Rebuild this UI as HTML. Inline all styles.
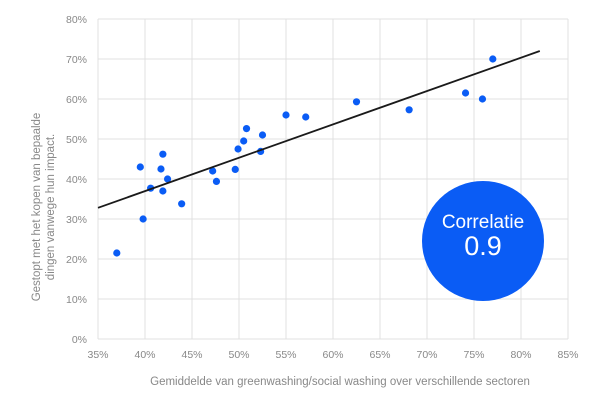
<!DOCTYPE html>
<html><head><meta charset="utf-8"><style>
body{margin:0;background:#fff;font-family:"Liberation Sans",sans-serif}
svg text{font-family:"Liberation Sans",sans-serif}
</style></head><body>
<svg width="600" height="403">
<g id="grid"></g>
<g id="axes"></g>
<g id="marks"></g>
<text x="340" y="385" font-size="11.5" fill="#888" text-anchor="middle">Gemiddelde van greenwashing/social washing over verschillende sectoren</text>
<g transform="translate(40,207) rotate(-90)">
<text x="0" y="0" font-size="11.5" fill="#888" text-anchor="middle">Gestopt met het kopen van bepaalde</text>
<text x="0" y="14" font-size="11.5" fill="#888" text-anchor="middle">dingen vanwege hun impact.</text>
</g>
<g>
<ellipse cx="483" cy="241" rx="61" ry="60" fill="#0a5cf5"/>
<text x="483" y="228" font-size="19" fill="#fff" text-anchor="middle">Correlatie</text>
<text x="483" y="255" font-size="27" fill="#fff" text-anchor="middle">0.9</text>
</g>
</svg>
<script>
const xVals=[37,39.5,39.8,40.6,41.7,41.9,41.9,42.4,43.9,47.2,47.6,49.6,49.9,50.5,50.8,52.3,52.5,55,57.1,62.5,68.1,74.1,75.9,77];
const yVals=[21.5,43,30,37.7,42.5,46.2,37,40,33.8,42,39.4,42.4,47.5,49.5,52.6,46.9,51,56,55.5,59.3,57.3,61.5,60,70];
const xTicks=[35,40,45,50,55,60,65,70,75,80,85];
const yTicks=[0,10,20,30,40,50,60,70,80];
const trendX=[35,82];
const trendY=[32.8,72];
const NS="http://www.w3.org/2000/svg";
const X=v=>98+(v-35)*(470/50);
const Y=v=>339-v*4;
function mk(t,a,p){const e=document.createElementNS(NS,t);for(const k in a)e.setAttribute(k,a[k]);p.appendChild(e);return e;}
const grid=document.getElementById('grid'),axes=document.getElementById('axes'),marks=document.getElementById('marks');
xTicks.forEach(t=>{
 const l=mk('line',{x1:X(t),x2:X(t),y1:Y(80),y2:Y(0),stroke:'#e0e0e0','stroke-width':1},grid);
 
 
 const s=mk('text',{x:X(t),y:358,'font-size':10.5,fill:'#888','text-anchor':'middle'},axes);s.textContent=t+'%';
 
 
});
yTicks.forEach(t=>{
 const l=mk('line',{x1:X(35),x2:X(85),y1:Y(t),y2:Y(t),stroke:'#e0e0e0','stroke-width':1},grid);
 
 
 const s=mk('text',{x:87,y:Y(t)+4,'font-size':10.5,fill:'#888','text-anchor':'end'},axes);s.textContent=t+'%';
 
 
});
xVals.forEach((v,i)=>{
 const c=mk('circle',{cx:X(v),cy:Y(yVals[i]),r:3.6,fill:'#0a5cf5'},marks);
 
 
});
const tl=mk('line',{x1:X(trendX[0]),y1:Y(trendY[0]),x2:X(trendX[1]),y2:Y(trendY[1]),stroke:'#1a1a1a','stroke-width':1.8},marks);


</script>
</body></html>
